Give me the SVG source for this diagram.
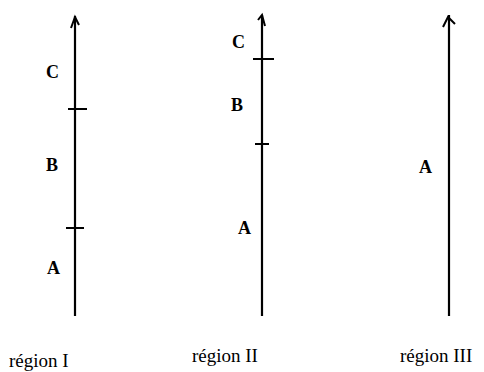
<svg xmlns="http://www.w3.org/2000/svg" width="484" height="372" viewBox="0 0 484 372">
<style>
.ax{stroke:#000;stroke-width:2.2;fill:none}
.tk{stroke:#000;stroke-width:2}
.hd{stroke:#000;stroke-width:2;fill:none}
.lb{font-family:"Liberation Serif",serif;font-size:18px;font-weight:bold;fill:#000}
.rg{font-family:"Liberation Serif",serif;font-size:19px;fill:#000}
</style>
<rect width="484" height="372" fill="#fff"/>
<g id="connectors">
<line class="ax" x1="75" y1="16" x2="75" y2="316"/>
<polyline class="hd" points="71,28 75,17 79,25"/>
<line class="ax" x1="262" y1="15" x2="262" y2="316"/>
<polyline class="hd" points="258,20 262,15 265,26"/>
<line class="ax" x1="449" y1="15" x2="449" y2="316"/>
<polyline class="hd" points="443,27 448,17 455,24"/>
</g>
<g id="axis-I">
<line class="tk" x1="68" y1="109" x2="87" y2="109"/>
<line class="tk" x1="66" y1="228" x2="84" y2="228"/>
<text class="lb" x="46" y="78">C</text>
<text class="lb" x="46" y="171">B</text>
<text class="lb" x="47" y="274">A</text>
<text class="rg" x="9" y="367">région I</text>
</g>
<g id="axis-II">
<line class="tk" x1="253" y1="59" x2="274" y2="59"/>
<line class="tk" x1="255" y1="144" x2="269" y2="144"/>
<text class="lb" x="232" y="48">C</text>
<text class="lb" x="231" y="111">B</text>
<text class="lb" x="238" y="234">A</text>
<text class="rg" x="192" y="362">région II</text>
</g>
<g id="axis-III">
<text class="lb" x="419" y="173">A</text>
<text class="rg" x="400" y="362">région III</text>
</g>
</svg>
